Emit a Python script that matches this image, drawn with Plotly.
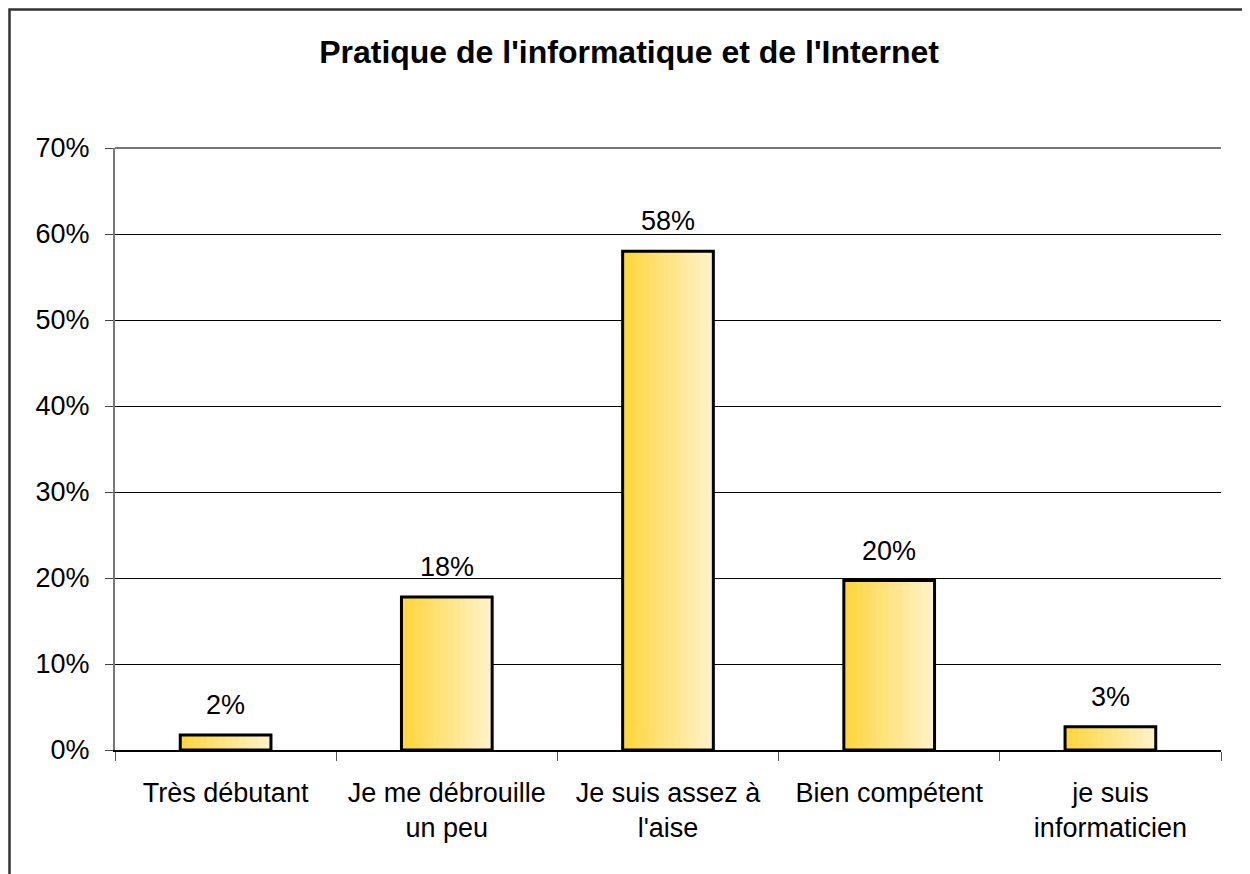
import plotly.graph_objects as go

categories = ["Très débutant", "Je me débrouille<br>un peu", "Je suis assez à<br>l'aise",
              "Bien compétent", "je suis<br>informaticien"]
values = [1.75, 17.8, 58.0, 19.7, 2.7]
labels = ["2%", "18%", "58%", "20%", "3%"]
y_ticks = [0, 10, 20, 30, 40, 50, 60, 70]
y_ticktext = ["0%", "10%", "20%", "30%", "40%", "50%", "60%", "70%"]

FONT = "Liberation Sans, Arial, Helvetica, sans-serif"
BAR_W = 0.41

# page has an 8px body margin, so the figure is sized smaller
W, H = 1242, 866
L, R, T, B = 107, 29, 140, 124
PW, PH = W - L - R, H - T - B

# gradient gold -> cream, faked with thin overlaid bar strips
c0 = (255, 214, 64)
c1 = (255, 242, 198)
n_strips = 14
sw = BAR_W / n_strips

fig = go.Figure()
for k in range(n_strips):
    t = k / (n_strips - 1)
    col = "rgb({},{},{})".format(*[round(a + (b - a) * t) for a, b in zip(c0, c1)])
    fig.add_trace(go.Bar(
        x=categories, y=values,
        width=[sw * 1.25 if k < n_strips - 1 else sw] * len(values),
        offset=[-BAR_W / 2 + k * sw] * len(values),
        marker=dict(color=col, line=dict(width=0)),
        hoverinfo="skip", showlegend=False,
    ))

# outline on top
fig.add_trace(go.Bar(
    x=categories, y=values,
    width=[BAR_W] * len(values),
    marker=dict(color="rgba(0,0,0,0)", line=dict(color="black", width=3)),
    showlegend=False,
))

for cat, v, lab in zip(categories, values, labels):
    fig.add_annotation(x=cat, y=v, text=lab, showarrow=False, yanchor="bottom",
                       yshift=13, font=dict(size=27, color="black", family=FONT))

fig.update_layout(
    width=W, height=H,
    barmode="overlay",
    paper_bgcolor="white", plot_bgcolor="white",
    margin=dict(l=L, r=R, t=T, b=B),
    font=dict(family=FONT, size=27, color="black"),
    title=dict(text="<b>Pratique de l'informatique et de l'Internet</b>",
               x=0.5, xanchor="center", y=1 - 44 / H, yanchor="middle",
               yref="container", font=dict(size=32, family=FONT, color="black")),
    xaxis=dict(
        showgrid=False, zeroline=False,
        showline=True, linecolor="black", linewidth=1.5,
        ticks="outside", tickson="boundaries", ticklen=9, tickcolor="#555",
        ticklabelstandoff=18,
        tickfont=dict(size=27, family=FONT),
    ),
    yaxis=dict(
        range=[0, 70], tickvals=y_ticks, ticktext=y_ticktext,
        showgrid=True, gridcolor="black", gridwidth=1,
        zeroline=False, showline=True, linecolor="#777", linewidth=2,
        ticks="outside", ticklen=8, tickcolor="#444",
        ticklabelstandoff=10,
        tickfont=dict(size=27, family=FONT),
    ),
    shapes=[
        dict(type="rect", xref="paper", yref="paper",
             x0=(1.5 - L) / PW, x1=(1239 - L) / PW,
             y0=(PH + T - H - 40) / PH, y1=(PH + T - 1.5) / PH,
             line=dict(color="#333", width=2.5), fillcolor="rgba(0,0,0,0)",
             layer="below"),
        # top gridline at the axis maximum
        dict(type="line", xref="paper", yref="paper", x0=0, x1=1, y0=1, y1=1,
             line=dict(color="#777", width=2)),
    ],
)

fig.write_html("out.html")
